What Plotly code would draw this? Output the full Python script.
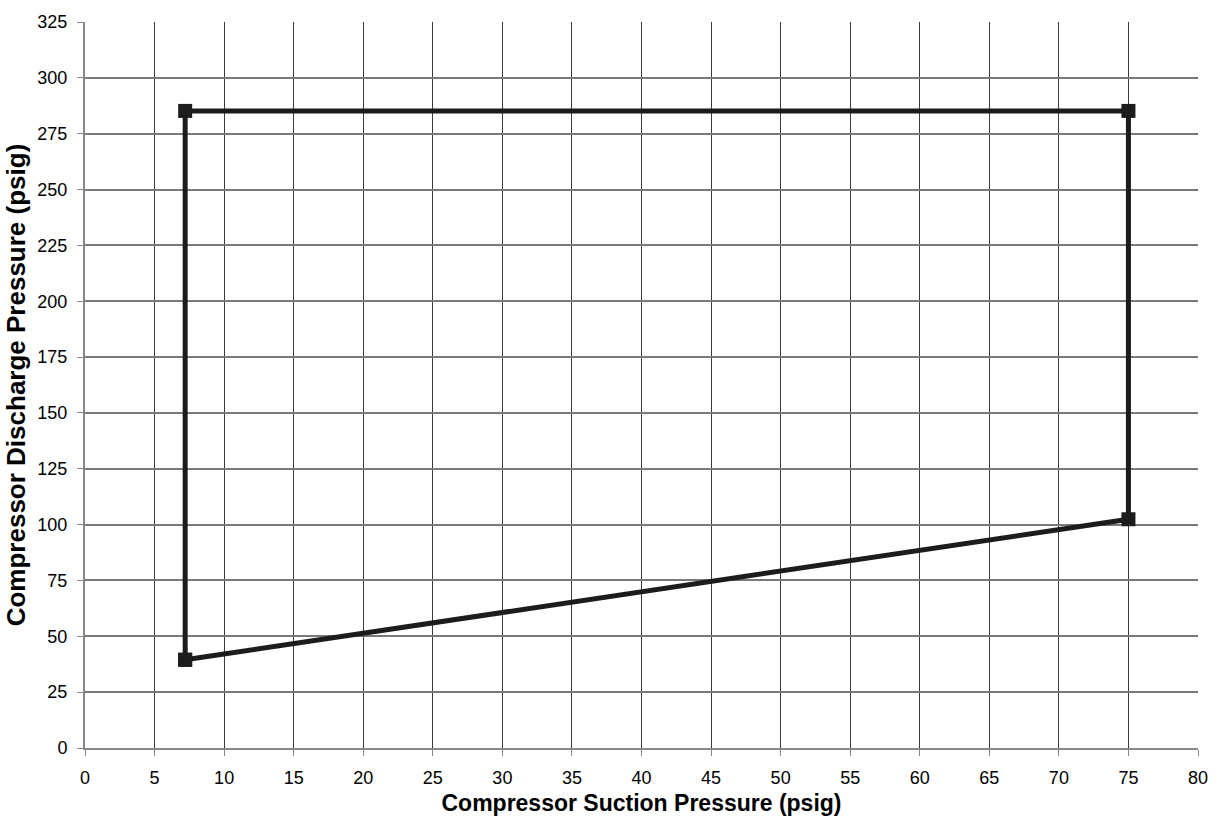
import plotly.graph_objects as go

# Compressor operating envelope (closed loop)
suction_psig = [7.2, 7.2, 75.0, 75.0, 7.2]
discharge_psig = [39.5, 285.2, 285.2, 102.4, 39.5]

x_ticks = list(range(0, 81, 5))
y_ticks = list(range(0, 326, 25))

fig = go.Figure()
fig.add_trace(go.Scatter(
    x=suction_psig,
    y=discharge_psig,
    mode="lines+markers",
    line=dict(color="#1c1c1c", width=5),
    marker=dict(symbol="square", size=14, color="#1c1c1c"),
    showlegend=False,
    hoverinfo="x+y",
))

family = "Liberation Sans, Arial, sans-serif"
tick_font = dict(family=family, size=18, color="#000")

fig.update_layout(
    width=1222,
    height=826,
    paper_bgcolor="white",
    plot_bgcolor="white",
    margin=dict(l=85, r=24, t=14, b=78),
    xaxis=dict(
        range=[0, 80],
        tickvals=x_ticks,
        showgrid=True,
        gridcolor="#3a3a3a",
        gridwidth=1,
        zeroline=False,
        showline=True,
        linecolor="#888",
        linewidth=2,
        ticks="outside",
        ticklen=6,
        tickcolor="#888",
        tickfont=tick_font,
        ticklabelstandoff=6,
        title=dict(text="<b>Compressor Suction Pressure (psig)</b>",
                   font=dict(family=family, size=23, color="#000"), standoff=8),
    ),
    yaxis=dict(
        range=[0, 325],
        tickvals=y_ticks,
        showgrid=True,
        gridcolor="#7a7a7a",
        gridwidth=1.5,
        zeroline=False,
        showline=True,
        linecolor="#888",
        linewidth=2,
        ticks="outside",
        ticklen=6,
        tickcolor="#888",
        tickfont=tick_font,
        ticklabelstandoff=6,
        title=dict(text="<b>Compressor Discharge Pressure (psig)</b>",
                   font=dict(family=family, size=26, color="#000"), standoff=4),
    ),
)

fig.write_html("out.html")
